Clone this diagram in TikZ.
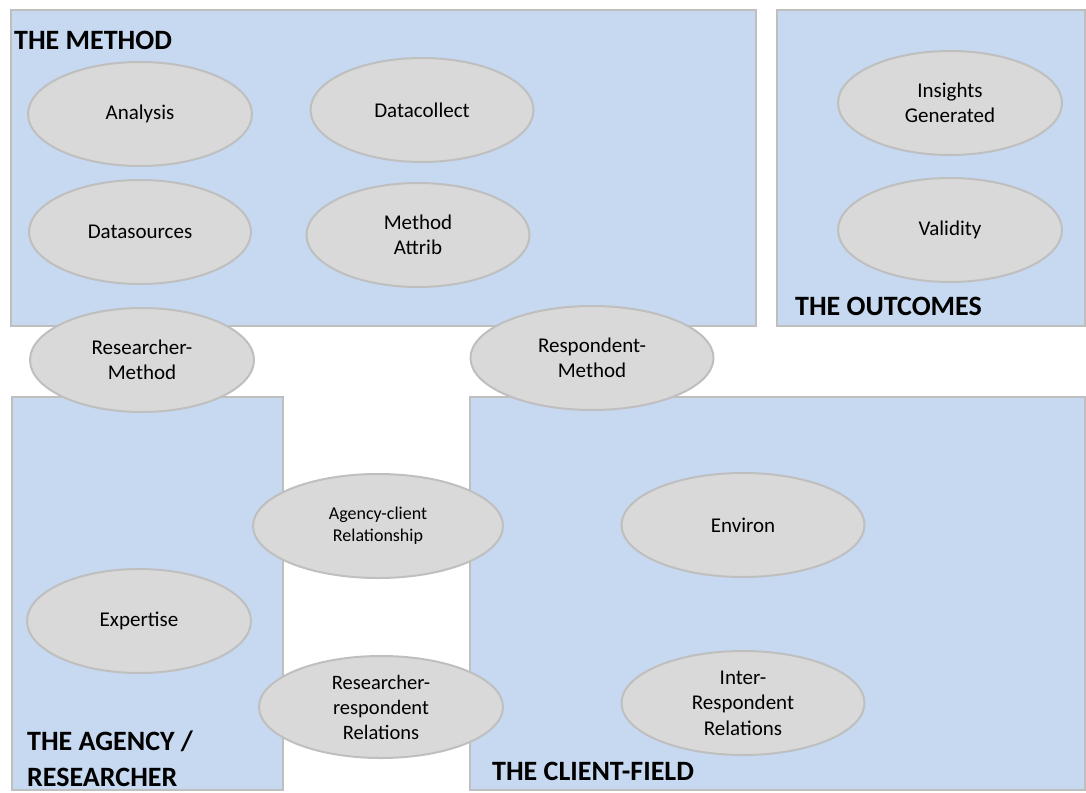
\documentclass[tikz,border=0pt]{standalone}
\usepackage{fontspec}
\setmainfont{Carlito}
\usetikzlibrary{shapes.geometric}
\definecolor{boxfill}{HTML}{C6D9F0}
\definecolor{boxline}{HTML}{BFBFBF}
\definecolor{bubfill}{HTML}{D9D9D9}
\tikzset{
  area/.style={draw=boxline, fill=boxfill, line width=2pt},
  bub/.style={ellipse, draw=boxline, fill=bubfill, line width=2pt, inner sep=0pt, outer sep=0pt,
    align=center, font=\fontsize{21}{25.5}\selectfont, minimum height=104pt},
  title/.style={anchor=base west, inner sep=0pt, align=left, font=\fontsize{28}{36}\selectfont\bfseries}
}
\begin{document}
\begin{tikzpicture}[x=1pt,y=-1pt]
\useasboundingbox (0,0) rectangle (1086,792);
% areas
\path[area] (11,10) rectangle (756,326);
\path[area] (777,10) rectangle (1085,326);
\path[area] (12,397) rectangle (283,790);
\path[area] (470,397) rectangle (1085,790);
% titles
\node[title] (tmethod) at (14,50) {THE METHOD};
\node[title] (toutcomes) at (795,315) {THE OUTCOMES};
\node[title] (tagency) at (27,786) {THE AGENCY /\\RESEARCHER};
\node[title] (tclient) at (492,780) {THE CLIENT-FIELD};
% method
\node[bub, minimum width=224pt] (analysis) at (140,114) {Analysis};
\node[bub, minimum width=223pt] (datacollect) at (422,110) {Datacollect};
\node[bub, minimum width=222pt] (datasources) at (140,232) {Datasources};
\node[bub, minimum width=223pt] (methodattrib) at (418,235) {Method\\Attrib};
% outcomes
\node[bub, minimum width=224pt] (insights) at (950,103) {Insights\\Generated};
\node[bub, minimum width=224pt] (validity) at (950,230) {Validity};
% links
\node[bub, minimum width=224pt] (resmethod) at (142,360) {Researcher-\\Method};
\node[bub, minimum width=243pt] (respmethod) at (592,358) {Respondent-\\Method};
\node[bub, minimum width=250pt, font=\fontsize{18}{22}\selectfont] (agencyclient) at (378,526) {Agency-client\\Relationship};
\node[bub, minimum width=244pt, minimum height=102pt, font=\fontsize{20.5}{25}\selectfont] (resresp) at (381,707) {Researcher-\\respondent\\Relations};
% agency
\node[bub, minimum width=224pt] (expertise) at (139,621) {Expertise};
% client
\node[bub, minimum width=243pt] (environ) at (743,525) {Environ};
\node[bub, minimum width=243pt] (interresp) at (743,703) {Inter-\\Respondent\\Relations};
\end{tikzpicture}
\end{document}
